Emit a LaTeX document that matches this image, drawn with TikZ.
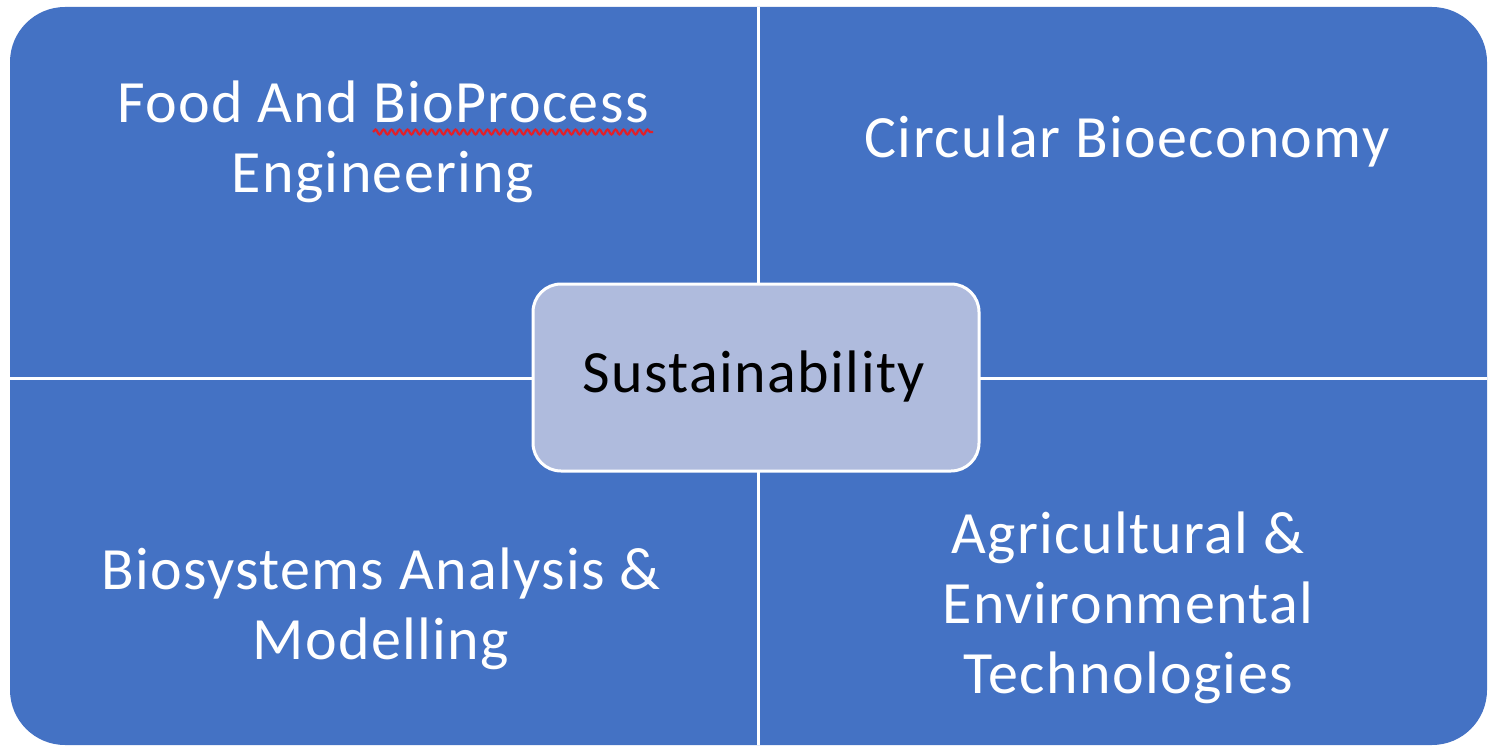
\documentclass[tikz,border=0pt]{standalone}
\usepackage{fontspec}
\setmainfont{Carlito}[LetterSpace=2.3]
\usetikzlibrary{decorations.pathmorphing}
\definecolor{quadblue}{HTML}{4472C4}
\definecolor{hubfill}{HTML}{AFBBDD}
\definecolor{spellred}{HTML}{E0202A}
\tikzset{
  label/.style={anchor=base, inner sep=0pt, text=white,
    font=\fontsize{60}{70}\selectfont},
  hublabel/.style={anchor=base, inner sep=0pt, text=black,
    font=\fontsize{60}{70}\selectfont},
  divider/.style={draw=white, line width=3pt},
}
\begin{document}
\begin{tikzpicture}[x=1pt,y=-1pt]
  \useasboundingbox (0,0) rectangle (1488,746);
  % four quadrants as one rounded block split by white lines
  \fill[quadblue, rounded corners=55pt] (10,7) rectangle (1487,745);
  \draw[divider] (758,7) -- (758,745);
  \draw[divider] (10,378) -- (1487,378);
  % central hub
  \node (hub) [draw=white, line width=3pt, fill=hubfill, rounded corners=28pt,
        minimum width=446pt, minimum height=187pt, inner sep=0pt]
        at (756,377.5) {};
  \node (hubtext) [hublabel] at (754,392) {Sustainability};
  % quadrant labels
  \node (food1) [label] at (383,123) {Food And BioProcess};
  \node (food2) [label] at (383,193) {Engineering};
  \node (circ)  [label] at (1127,158) {Circular Bioeconomy};
  \node (bio1)  [label] at (381,589) {Biosystems Analysis \&};
  \node (bio2)  [label] at (381,659) {Modelling};
  \node (agr1)  [label] at (1128,553) {Agricultural \&};
  \node (agr2)  [label] at (1128,623) {Environmental};
  \node (agr3)  [label] at (1128,693) {Technologies};
  % wavy underline beneath the word BioProcess
  \coordinate (sqa) at (373,132);
  \coordinate (sqb) at (653,132);
  \draw[spellred, line width=2.2pt, decorate,
        decoration={snake, amplitude=2.5pt, segment length=8pt}] (sqa) -- (sqb);
\end{tikzpicture}
\end{document}
